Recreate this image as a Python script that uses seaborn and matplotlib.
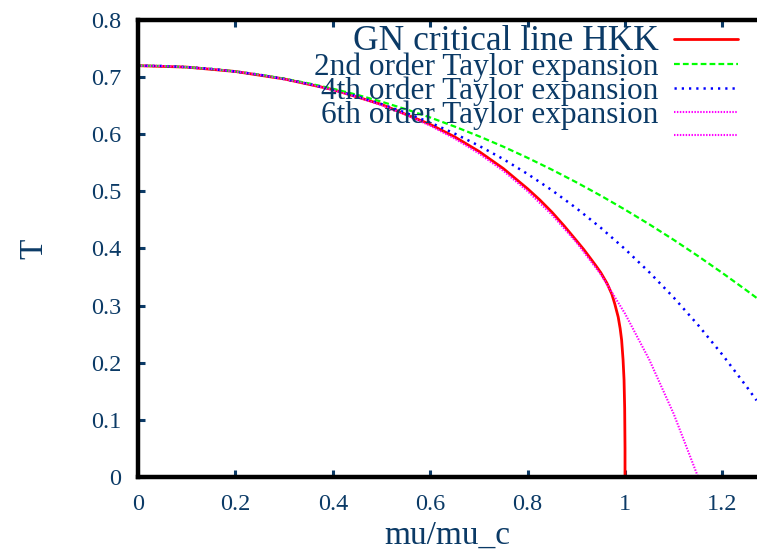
import numpy as np
import pandas as pd
import matplotlib
matplotlib.use("Agg")
import matplotlib.pyplot as plt
import seaborn as sns

# ---- data ----
mu_grid = [0.0, 0.05, 0.10, 0.15, 0.20, 0.25, 0.30, 0.35, 0.40, 0.45, 0.50, 0.55,
           0.60, 0.65, 0.70, 0.75, 0.80, 0.85, 0.90, 0.95, 1.00, 1.05, 1.10, 1.15,
           1.20, 1.25, 1.27]
T_2nd = [0.7200, 0.7194, 0.7175, 0.7143, 0.7099, 0.7043, 0.6973, 0.6891, 0.6797,
         0.6690, 0.6570, 0.6438, 0.6293, 0.6135, 0.5965, 0.5783, 0.5587, 0.5379,
         0.5159, 0.4926, 0.4680, 0.4422, 0.4151, 0.3867, 0.3571, 0.3263, 0.3136]
T_4th = [0.7200, 0.7194, 0.7175, 0.7143, 0.7098, 0.7040, 0.6967, 0.6881, 0.6779,
         0.6662, 0.6527, 0.6375, 0.6204, 0.6012, 0.5799, 0.5565, 0.5304, 0.5019,
         0.4706, 0.4364, 0.3990, 0.3583, 0.3141, 0.2660, 0.2140, 0.1578, 0.1341]
mu_6th = [0.0, 0.05, 0.10, 0.15, 0.20, 0.25, 0.30, 0.35, 0.40, 0.45, 0.50, 0.55,
          0.60, 0.65, 0.70, 0.75, 0.80, 0.85, 0.90, 0.95, 1.00, 1.05, 1.10, 1.15]
T_6th = [0.7200, 0.7194, 0.7175, 0.7143, 0.7098, 0.7040, 0.6966, 0.6879, 0.6774,
         0.6653, 0.6509, 0.6343, 0.6150, 0.5925, 0.5664, 0.5360, 0.5003, 0.4590,
         0.4110, 0.3550, 0.2860, 0.2050, 0.1104, 0.0000]
mu_hkk = [0.0, 0.10, 0.20, 0.30, 0.40, 0.50, 0.60, 0.65, 0.70, 0.75, 0.80, 0.825,
          0.85, 0.875, 0.90, 0.915, 0.93, 0.94, 0.95, 0.963, 0.973, 0.979,
          0.986, 0.990, 0.993, 0.996, 0.998, 0.9993, 1.0, 1.0]
T_hkk = [0.7200, 0.7175, 0.7098, 0.6968, 0.6782, 0.6522, 0.6172, 0.5955, 0.5700,
         0.5400, 0.5045, 0.4850, 0.4635, 0.4395, 0.4140, 0.3985, 0.3815, 0.3700,
         0.3580, 0.3390, 0.3200, 0.3030, 0.2800, 0.2600, 0.2400, 0.2050, 0.1700,
         0.1200, 0.0500, 0.0000]

labels = ["GN critical line HKK", "2nd order Taylor expansion",
          "4th order Taylor expansion", "6th order Taylor expansion", " "]
x_ticks = [0, 0.2, 0.4, 0.6, 0.8, 1.0, 1.2]
x_ticklabels = ["0", "0.2", "0.4", "0.6", "0.8", "1", "1.2"]
y_ticks = [0, 0.1, 0.2, 0.3, 0.4, 0.5, 0.6, 0.7, 0.8]
y_ticklabels = ["0", "0.1", "0.2", "0.3", "0.4", "0.5", "0.6", "0.7", "0.8"]

# ---- style ----
sns.set_theme(style="white")
plt.rcParams["font.family"] = ["Liberation Serif", "DejaVu Serif"]
navy = "#0b3a66"

fig = plt.figure(figsize=(7.57, 5.52), dpi=100)
ax = fig.add_axes([0.1823, 0.1359, 0.8177, 0.8279])

sns.lineplot(x=mu_hkk, y=T_hkk, ax=ax, color="#ff0000", lw=2.0,
             estimator=None, sort=False, label=labels[0])
sns.lineplot(x=mu_grid, y=T_2nd, ax=ax, color="#00ff00", lw=1.6,
             estimator=None, sort=False, label=labels[1])
sns.lineplot(x=mu_grid, y=T_4th, ax=ax, color="#0000ff", lw=1.8,
             estimator=None, sort=False, label=labels[2])
sns.lineplot(x=mu_6th, y=T_6th, ax=ax, color="#ff00ff", lw=1.5,
             estimator=None, sort=False, label=labels[3])
lines = ax.get_lines()
lines[1].set_dashes([2.6, 1.4])
lines[2].set_dashes([0.9, 2.0])
lines[3].set_dashes([0.7, 0.7])
# extra (empty) legend entry shown in the reference
ax.plot([], [], color="#ff00ff", lw=1.5, dashes=[0.7, 0.7], label=labels[4])

ax.set_xlim(0, 1.271)
ax.set_ylim(0, 0.8)
ax.set_xticks(x_ticks)
ax.set_xticklabels(x_ticklabels)
ax.set_yticks(y_ticks)
ax.set_yticklabels(y_ticklabels)
ax.tick_params(axis="both", direction="in", length=5, width=2.2, color=navy,
               labelcolor=navy, labelsize=17.5, top=True, bottom=True,
               left=True, right=False)
ax.tick_params(axis="x", pad=12)
ax.tick_params(axis="y", pad=12)

for side in ["left", "top", "bottom"]:
    ax.spines[side].set_visible(True)
    ax.spines[side].set_color("black")
    ax.spines[side].set_linewidth(3.2)
ax.spines["right"].set_visible(False)

ax.set_xlabel("mu/mu_c", fontsize=24, color=navy, labelpad=4)
ax.set_ylabel("T", fontsize=24, color=navy, labelpad=30)

leg = ax.legend(loc="upper right", bbox_to_anchor=(1.0, 1.03), frameon=False,
                markerfirst=False, fontsize=22.5, handlelength=2.05,
                handletextpad=0.5, labelspacing=-0.18, borderaxespad=0.2)
for t in leg.get_texts():
    t.set_color(navy)
leg.get_texts()[0].set_fontsize(25.5)

fig.savefig("out.png", dpi=100)
